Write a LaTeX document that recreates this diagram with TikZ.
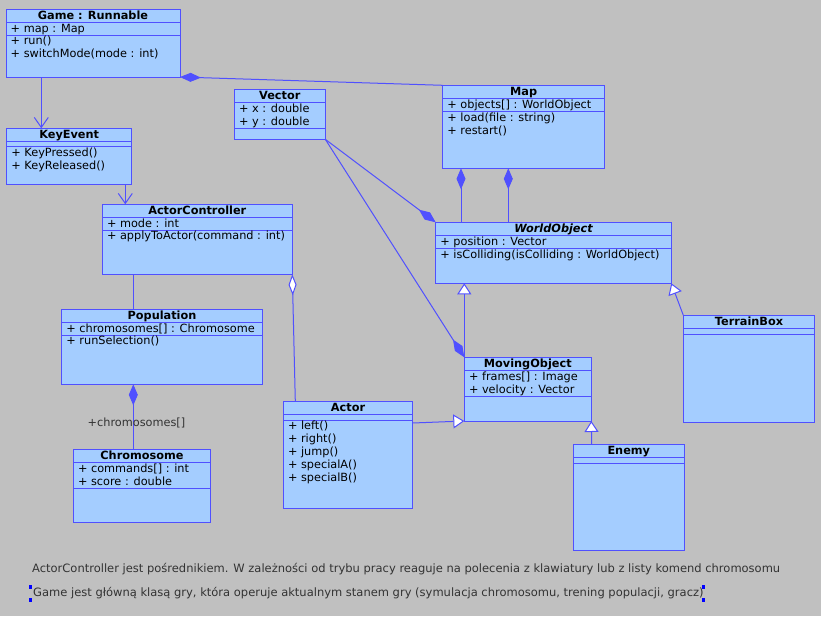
\documentclass[tikz,border=0pt]{standalone}
\usepackage{fontspec}
\setmainfont{DejaVu Sans}
\usetikzlibrary{arrows.meta,calc}

\definecolor{bgc}{HTML}{C0C0C0}
\definecolor{boxfill}{HTML}{A4CDFF}
\definecolor{boxline}{HTML}{5050FF}
\definecolor{notetext}{HTML}{333333}
\definecolor{handle}{HTML}{0000FF}

\newcommand{\rowstrut}{\rule{0pt}{9.7pt}\rule[-3.3pt]{0pt}{3.3pt}}

\tikzset{
  umlframe/.style={draw=boxline, fill=boxfill, line width=1pt, inner sep=0pt, outer sep=0pt, rectangle},
  umlrule/.style={draw=boxline, line width=1pt},
  umltitle/.style={font=\fontsize{11.3}{13}\selectfont\bfseries, inner sep=0pt, anchor=base},
  umltext/.style={font=\fontsize{11.3}{13}\selectfont, inner sep=0pt, anchor=north west, align=left},
  link/.style={draw=boxline, line width=1pt},
  composite/.style={link, arrows={Diamond[length=21pt,width=9pt]-}},
  aggregate/.style={link, arrows={Diamond[length=21pt,width=8pt,fill=white]-}},
  inherits/.style={link, arrows={-Triangle[length=11pt,width=14pt,fill=white]}},
  navigable/.style={link, arrows={-Straight Barb[length=10pt,width=14pt]}},
  rolelabel/.style={font=\fontsize{11.3}{13}\selectfont, text=notetext, inner sep=0pt},
  note/.style={font=\fontsize{11.5}{14}\selectfont, text=notetext, inner sep=0pt},
}

% #1 name, #2 left, #3 top, #4 right, #5 bottom, #6 y of the operations rule,
% #7 class name, #8 attributes, #9 operations
\newcommand{\umlclass}[9]{%
  \node[umlframe, anchor=north west, minimum width={(#4-#2)*1pt}, minimum height={(#5-#3)*1pt}] (#1) at (#2,#3) {};
  \draw[umlrule] (#2,#3+13.4) -- (#4,#3+13.4);
  \draw[umlrule] (#2,#6) -- (#4,#6);
  \node[umltitle] at ({(#2+#4)/2},#3+9.7) {#7};
  \node[umltext] at (#2+4.5,#3+13.4) {\rowstrut#8};
  \node[umltext] at (#2+4.5,#6) {\rowstrut#9};
}

\begin{document}
\begin{tikzpicture}[x=1pt, y=-1pt]
  \fill[bgc] (0,0) rectangle (821,616);
  \useasboundingbox (0,0) rectangle (821,616);

  % classes
  \umlclass{game}{6}{9.3}{180}{77}{35}{Game : Runnable}{+ map : Map}{+ run()\\+ switchMode(mode : int)}
  \umlclass{vector}{234.3}{89.3}{325.3}{139.3}{128.3}{Vector}{+ x : double\\+ y : double}{}
  \umlclass{map}{442.7}{85.3}{604.7}{168.3}{111.7}{Map}{+ objects[] : WorldObject}{+ load(file : string)\\+ restart()}
  \umlclass{keyevent}{6.7}{128.3}{131.7}{184}{146.7}{KeyEvent}{}{+ KeyPressed()\\+ KeyReleased()}
  \umlclass{actorcontroller}{102.3}{204.3}{292.3}{274.3}{230}{ActorController}{+ mode : int}{+ applyToActor(command : int)}
  \umlclass{worldobject}{435.7}{222.3}{671.3}{283.3}{248.3}{\itshape WorldObject}{+ position : Vector}{+ isColliding(isColliding : WorldObject)}
  \umlclass{population}{61.7}{309.3}{262.3}{384.3}{335}{Population}{+ chromosomes[] : Chromosome}{+ runSelection()}
  \umlclass{chromosome}{73.3}{449.3}{210.7}{522.3}{488.3}{Chromosome}{+ commands[] : int\\+ score : double}{}
  \umlclass{actor}{283.3}{401.3}{412.7}{508.3}{420}{Actor}{}{+ left()\\+ right()\\+ jump()\\+ specialA()\\+ specialB()}
  \umlclass{movingobject}{464.3}{357.3}{591.3}{421}{396.7}{MovingObject}{+ frames[] : Image\\+ velocity : Vector}{}
  \umlclass{enemy}{573.3}{444.3}{684.3}{550.3}{463.3}{Enemy}{}{}
  \umlclass{terrainbox}{683.3}{315.3}{814.7}{422.3}{334.3}{TerrainBox}{}{}

  % associations
  \draw[navigable] ([xshift=35.3pt]game.south west) -- ([xshift=34.6pt]keyevent.north west);
  \draw[navigable] ([xshift=118.6pt]keyevent.south west) -- ([xshift=23pt]actorcontroller.north west);
  \draw[link] ([xshift=31pt]actorcontroller.south west) -- ([xshift=71.6pt]population.north west);
  \draw[aggregate] (actorcontroller.south east) -- ([xshift=12pt]actor.north west);
  \draw[composite] ([xshift=71.6pt]population.south west) --
    node[rolelabel, pos=0.652, anchor=base, xshift=3.2pt] (rolename) {+chromosomes[]}
    ([xshift=60pt]chromosome.north west);
  \draw[composite] (game.south east) -- (map.north west);
  \draw[composite] ([xshift=18.3pt]map.south west) -- ([xshift=25.3pt]worldobject.north west);
  \draw[composite] ([xshift=65.6pt]map.south west) -- ([xshift=72.6pt]worldobject.north west);
  \draw[composite] (worldobject.north west) -- (vector.south east);
  \draw[composite] (movingobject.north west) -- (vector.south east);

  % generalizations
  \draw[inherits] (movingobject.north west) -- ([xshift=28.6pt]worldobject.south west);
  \draw[inherits] ([yshift=-21.7pt]actor.north east) -- (movingobject.south west);
  \draw[inherits] ([xshift=18.4pt]enemy.north west) -- (movingobject.south east);
  \draw[inherits] (terrainbox.north west) -- (worldobject.south east);

  % notes
  \node[note, anchor=west] (remark1) at (32,569) {ActorController jest pośrednikiem. W zależności od trybu pracy reaguje na polecenia z klawiatury lub z listy komend chromosomu};
  \node[note, anchor=west] (remark2) at (33,593) {Game jest główną klasą gry, która operuje aktualnym stanem gry (symulacja chromosomu, trening populacji, gracz)};

  % selection handles of the second note
  \fill[handle] (29,585) rectangle (32,589);
  \fill[handle] (29,598) rectangle (32,602);
  \fill[handle] (702,585) rectangle (705,589);
  \fill[handle] (702,598) rectangle (705,602);
\end{tikzpicture}
\end{document}
